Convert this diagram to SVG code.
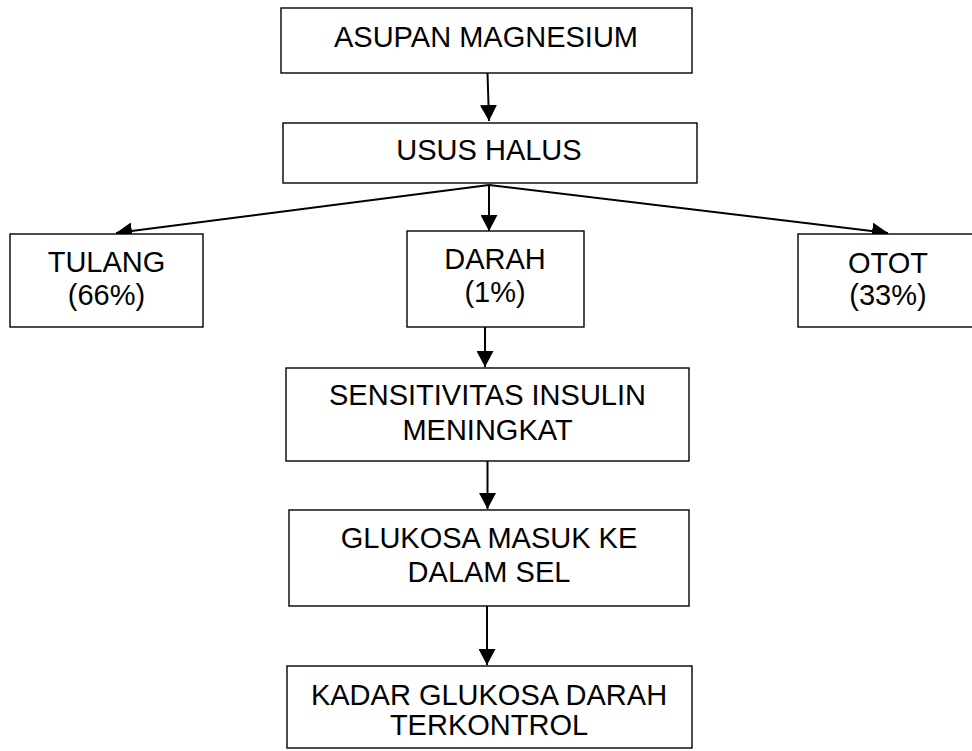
<svg xmlns="http://www.w3.org/2000/svg" width="972" height="751" viewBox="0 0 972 751">
<defs>
<style>
.box{fill:#fff;stroke:#000;stroke-width:1.4}
.t{font-family:"Liberation Sans",Arial,sans-serif;font-size:29px;fill:#000;text-anchor:middle}
.c{stroke:#000;stroke-width:2;fill:none;marker-end:url(#ah)}
</style>
<marker id="ah" markerUnits="userSpaceOnUse" markerWidth="16" markerHeight="17" refX="16" refY="8.5" orient="auto">
<path d="M0,0 L16,8.5 L0,17 z" fill="#000"/>
</marker>
</defs>
<rect width="972" height="751" fill="#fff"/>
<g id="connectors">
<line class="c" x1="487.5" y1="73" x2="489" y2="121"/>
<line class="c" x1="489" y1="185" x2="116" y2="233"/>
<line class="c" x1="489" y1="185" x2="489" y2="231"/>
<line class="c" x1="489" y1="185" x2="888" y2="233"/>
<line class="c" x1="485" y1="327" x2="485" y2="367"/>
<line class="c" x1="487.5" y1="461" x2="487.5" y2="509"/>
<line class="c" x1="487" y1="606" x2="487" y2="665"/>
</g>
<g id="asupan">
<rect class="box" x="281" y="8" width="411" height="65"/>
<text class="t" x="486" y="47">ASUPAN MAGNESIUM</text>
</g>
<g id="usus">
<rect class="box" x="283" y="123" width="414" height="60"/>
<text class="t" x="489" y="160">USUS HALUS</text>
</g>
<g id="tulang">
<rect class="box" x="10" y="234" width="193" height="93"/>
<text class="t" x="106.5" y="272">TULANG</text>
<text class="t" x="106.5" y="305">(66%)</text>
</g>
<g id="darah">
<rect class="box" x="407" y="231" width="177" height="96"/>
<text class="t" x="495" y="269">DARAH</text>
<text class="t" x="495" y="302">(1%)</text>
</g>
<g id="otot">
<rect class="box" x="798" y="234" width="180" height="93"/>
<text class="t" x="888" y="273">OTOT</text>
<text class="t" x="888" y="305">(33%)</text>
</g>
<g id="sensitivitas">
<rect class="box" x="286" y="368" width="403" height="93"/>
<text class="t" x="487.5" y="405">SENSITIVITAS INSULIN</text>
<text class="t" x="487.5" y="440">MENINGKAT</text>
</g>
<g id="glukosa">
<rect class="box" x="289" y="510" width="400" height="96"/>
<text class="t" x="489" y="548">GLUKOSA MASUK KE</text>
<text class="t" x="489" y="582">DALAM SEL</text>
</g>
<g id="kadar">
<rect class="box" x="287" y="666" width="405" height="82"/>
<text class="t" x="489" y="705">KADAR GLUKOSA DARAH</text>
<text class="t" x="489" y="735">TERKONTROL</text>
</g>
</svg>
